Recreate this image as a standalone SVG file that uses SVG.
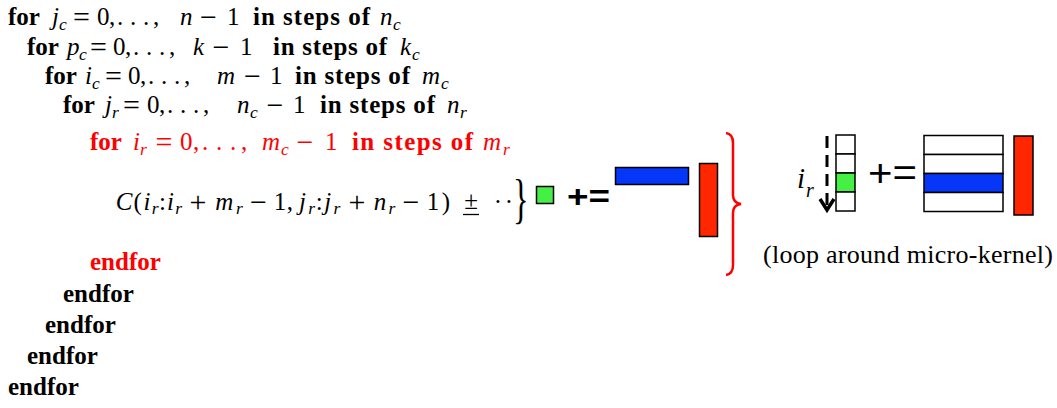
<svg xmlns="http://www.w3.org/2000/svg" width="1057" height="408" viewBox="0 0 1057 408">
<style>
text{font-family:"Liberation Serif","Times New Roman","DejaVu Serif",serif;font-size:25px}
.b{font-weight:bold}
.i{font-style:italic}
.o{font-size:30px}
.s{font-style:italic;font-size:17.5px}
.red{fill:#ff0000}
.blk{stroke:#000;stroke-width:1.5}
.g{fill:#44f044}
.bl{fill:#0636f8}
.rd{fill:#ff2600}
.w{fill:#fff}
.sans{font-family:"Liberation Sans",Arial,sans-serif}
</style>
<rect width="1057" height="408" fill="#fff"/>
<g id="loop-jc">
<text class="b" x="8" y="25">for</text>
<text class="i" x="52" y="25">j</text><text class="s" x="59" y="30">c</text>
<text class="o" x="81.5" y="27" text-anchor="middle">=</text>
<text x="97 109 117 130 143 153" y="25">0,...,</text>
<text class="i" x="180" y="25">n</text>
<text class="o" x="208.5" y="27" text-anchor="middle">−</text>
<text x="227" y="25">1</text>
<text class="b" x="253" y="25" textLength="117" lengthAdjust="spacing">in steps of</text>
<text class="i" x="380" y="25">n</text><text class="s" x="393" y="30">c</text>
</g>
<g id="loop-pc">
<text class="b" x="27" y="55">for</text>
<text class="i" x="67" y="55">p</text><text class="s" x="79" y="60">c</text>
<text class="o" x="98.5" y="57" text-anchor="middle">=</text>
<text x="113 125 133 146 159 169" y="55">0,...,</text>
<text class="i" x="193" y="55">k</text>
<text class="o" x="221" y="57" text-anchor="middle">−</text>
<text x="240" y="55">1</text>
<text class="b" x="273" y="55" textLength="114" lengthAdjust="spacing">in steps of</text>
<text class="i" x="400" y="55">k</text><text class="s" x="412" y="60">c</text>
</g>
<g id="loop-ic">
<text class="b" x="45" y="84">for</text>
<text class="i" x="85" y="84">i</text><text class="s" x="92" y="89">c</text>
<text class="o" x="113.5" y="86" text-anchor="middle">=</text>
<text x="128 140 148 161 174 184" y="84">0,...,</text>
<text class="i" x="217" y="84">m</text>
<text class="o" x="252.5" y="86" text-anchor="middle">−</text>
<text x="270" y="84">1</text>
<text class="b" x="295" y="84" textLength="115" lengthAdjust="spacing">in steps of</text>
<text class="i" x="422" y="84">m</text><text class="s" x="441" y="89">c</text>
</g>
<g id="loop-jr">
<text class="b" x="63" y="113">for</text>
<text class="i" x="105" y="113">j</text><text class="s" x="112" y="118">r</text>
<text class="o" x="131.5" y="115" text-anchor="middle">=</text>
<text x="147 159 167 180 193 203" y="113">0,...,</text>
<text class="i" x="237" y="113">n</text><text class="s" x="250" y="118">c</text>
<text class="o" x="275" y="115" text-anchor="middle">−</text>
<text x="293" y="113">1</text>
<text class="b" x="320" y="113" textLength="115" lengthAdjust="spacing">in steps of</text>
<text class="i" x="447" y="113">n</text><text class="s" x="460" y="118">r</text>
</g>
<g id="loop-ir">
<text class="b red" x="90" y="150">for</text>
<text class="i red" x="133" y="150">i</text><text class="s red" x="140" y="155">r</text>
<text class="o red" x="164" y="152" text-anchor="middle">=</text>
<text class="red" x="180 193 202 216 230 241" y="150">0,...,</text>
<text class="i red" x="262" y="150">m</text><text class="s red" x="281" y="155">c</text>
<text class="o red" x="305" y="152" text-anchor="middle">−</text>
<text class="red" x="325" y="150">1</text>
<text class="b red" x="352" y="150" textLength="121" lengthAdjust="spacing">in steps of</text>
<text class="i red" x="483" y="150">m</text><text class="s red" x="503" y="155">r</text>
</g>
<g id="update">
<text text-anchor="middle" y="210"><tspan class="i" x="124">C</tspan><tspan x="137.7">(</tspan><tspan class="i" x="146.9">i</tspan><tspan class="s" x="155.1" y="214">r</tspan><tspan x="162.6" y="210">:</tspan><tspan class="i" x="170.4">i</tspan><tspan class="s" x="178.6" y="214">r</tspan><tspan class="o" x="198" y="212">+</tspan><tspan class="i" x="224.2" y="210">m</tspan><tspan class="s" x="239.5" y="214">r</tspan><tspan class="o" x="258.5" y="212">−</tspan><tspan x="280" y="210">1</tspan><tspan x="289.8">,</tspan><tspan class="i" x="302.6">j</tspan><tspan class="s" x="311.7" y="214">r</tspan><tspan x="319.2" y="210">:</tspan><tspan class="i" x="327.8">j</tspan><tspan class="s" x="337" y="214">r</tspan><tspan class="o" x="357" y="212">+</tspan><tspan class="i" x="380" y="210">n</tspan><tspan class="s" x="392" y="214">r</tspan><tspan class="o" x="411" y="212">−</tspan><tspan x="433" y="210">1</tspan><tspan x="446">)</tspan></text>
<text x="471" y="209" text-anchor="middle">±</text>
<line x1="463" y1="214.5" x2="479" y2="214.5" stroke="#000" stroke-width="1.3"/>
<text x="498 509" y="210" text-anchor="middle">··</text>
<text style="font-size:54px" transform="translate(513,217) scale(0.6,1)" x="0" y="0">}</text>
</g>
<g id="block-op">
<rect class="g blk" x="536.5" y="186.5" width="17" height="17"/>
<text class="sans" x="567" y="207" style="font-weight:bold;font-size:32px" textLength="43" lengthAdjust="spacingAndGlyphs">+=</text>
<rect class="bl blk" x="615.5" y="167.5" width="73" height="17"/>
<rect class="rd blk" x="699.5" y="163.5" width="18" height="73"/>
</g>
<g id="red-brace">
<path d="M726,133 Q733,134 733,143 L733,195 Q733,203 741,204 Q733,205 733,213 L733,265 Q733,274 726,275" fill="none" stroke="#ff0000" stroke-width="2.5"/>
</g>
<g id="microkernel">
<text class="i" x="797" y="188" style="font-size:29px">i</text>
<text class="s" x="806" y="197" style="font-size:20px">r</text>
<rect class="w blk" x="836" y="135" width="19" height="19"/>
<rect class="w blk" x="836" y="154" width="19" height="19"/>
<rect class="g blk" x="836" y="173" width="19" height="19"/>
<rect class="w blk" x="836" y="192" width="19" height="19"/>
<text class="sans" x="868" y="186" style="font-size:38px" textLength="49" lengthAdjust="spacingAndGlyphs">+=</text>
<rect class="w blk" x="924" y="135.5" width="79" height="19"/>
<rect class="w blk" x="924" y="154.5" width="79" height="19"/>
<rect class="bl blk" x="924" y="173.5" width="79" height="19"/>
<rect class="w blk" x="924" y="192.5" width="79" height="19"/>
<rect class="rd blk" x="1014" y="136" width="19" height="79"/>
<text x="763" y="263" style="font-size:26px" textLength="290" lengthAdjust="spacing">(loop around micro-kernel)</text>
</g>
<g id="connectors">
<line x1="827" y1="136" x2="827" y2="207" stroke="#000" stroke-width="3" stroke-dasharray="12 7"/>
<path d="M820,199 L827,210 L834,199" fill="none" stroke="#000" stroke-width="3.5"/>
</g>
<g id="endfors">
<text class="b red" x="90" y="270">endfor</text>
<text class="b" x="63" y="302">endfor</text>
<text class="b" x="45" y="333">endfor</text>
<text class="b" x="27" y="364">endfor</text>
<text class="b" x="8" y="395">endfor</text>
</g>
</svg>
